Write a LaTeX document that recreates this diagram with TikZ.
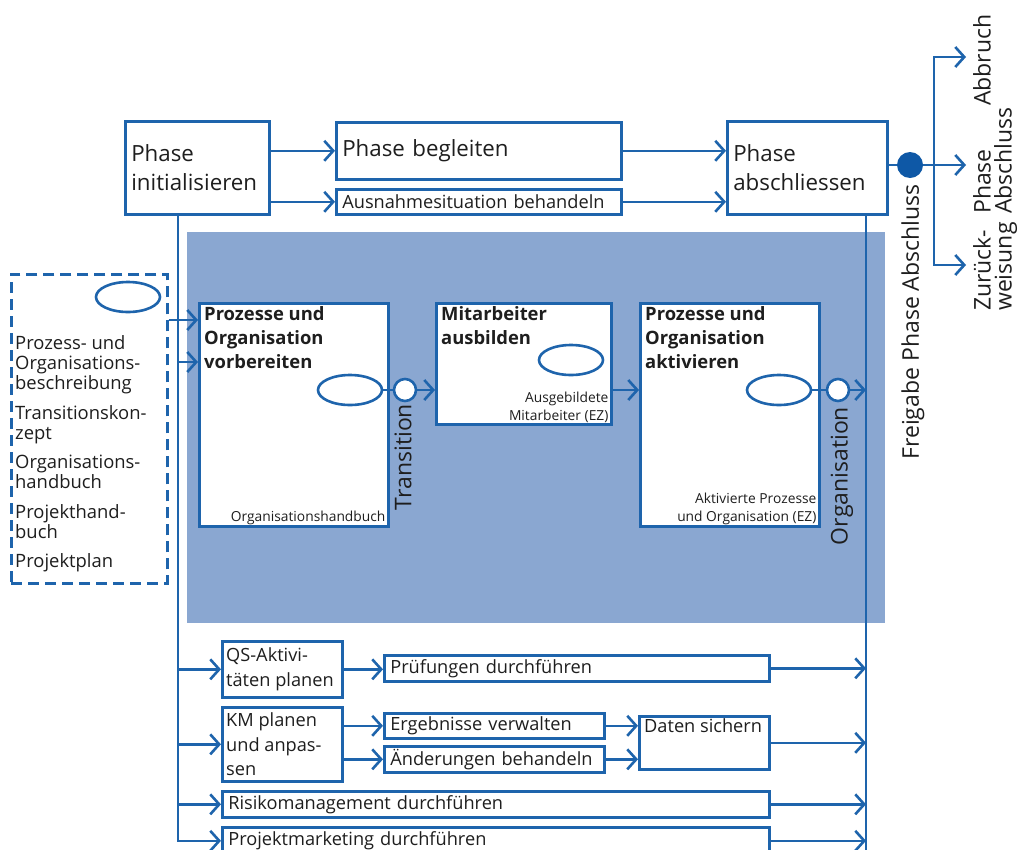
\documentclass[tikz,border=0pt]{standalone}
\usepackage{fontspec}
\setmainfont{Open Sans}
\usetikzlibrary{arrows.meta,shapes.geometric,calc}
\definecolor{lb}{RGB}{30,100,172}
\definecolor{bgb}{RGB}{138,167,209}
\definecolor{dotc}{RGB}{14,88,166}
\definecolor{txt}{RGB}{30,30,30}
\newcommand\fL{\fontsize{22.3}{29}\selectfont}
\newcommand\fM{\fontsize{18.2}{24.5}\selectfont}
\newcommand\fD{\fontsize{18.4}{20.3}\selectfont}
\newcommand\fB{\fontsize{18.4}{24}\selectfont\bfseries}
\newcommand\fS{\fontsize{13.8}{17.5}\selectfont}
\newcommand\fR{\fontsize{23}{21}\selectfont}
\newcommand\fV{\fontsize{23}{28}\selectfont}
\begin{document}
\begin{tikzpicture}[x=1pt,y=-1pt,
 box/.style={draw=lb, line width=2.6pt, fill=white, anchor=north west, inner xsep=6pt, inner ysep=1pt, align=left, text=txt},
 arr/.style={draw=lb, line width=2.6pt, -{Straight Barb[length=9pt,width=20pt,line width=2.6pt]}},
 ln/.style={draw=lb, line width=2.6pt},
 oval/.style={ellipse, draw=lb, line width=2.6pt, fill=white, minimum width=64pt, minimum height=30pt, inner sep=0},
 ring/.style={circle, draw=lb, line width=2.6pt, fill=white, minimum size=22pt, inner sep=0},
 rot/.style={rotate=90, text=txt, inner sep=0, align=left},
 ttl/.style={anchor=north west, inner xsep=6pt, inner ysep=4pt, align=left, font=\fB, text=txt},
 note/.style={anchor=south east, inner xsep=4pt, inner ysep=3pt, align=right, font=\fS, text=txt},
 wtxt/.style={anchor=west, inner xsep=5pt, inner ysep=0pt, align=left, font=\fM, text=txt},
]
\useasboundingbox (0,0) rectangle (1019,849);
\fill[white] (0,0) rectangle (1019,849);
% background panel
\fill[bgb] (187,232) rectangle (885,623);

% top row
\node[box, font=\fL, minimum width=144pt, minimum height=93pt, text width=132pt] (init) at (124,120) {Phase\\initialisieren};
\node[box, font=\fL, minimum width=285pt, minimum height=57pt, text width=273pt] (begl) at (335,121) {Phase begleiten};
\node[box, font=\fM, minimum width=285pt, minimum height=25pt, text width=273pt] (ausn) at (335,188) {Ausnahmesituation behandeln};
\node[box, font=\fL, minimum width=160pt, minimum height=93pt, text width=148pt] (absch) at (726,120) {Phase\\abschliessen};
\node[circle, fill=dotc, minimum size=26pt, inner sep=0] (dot) at (910,165) {};
\coordinate (br) at (934,165);
\coordinate (tAB) at (966,57);
\coordinate (tPA) at (966,165);
\coordinate (tZW) at (966,265);
\node[rot, font=\fR, anchor=north west] (lAB) at (973,106) {Abbruch};
\node[rot, font=\fR, anchor=north west] (lPA) at (973,214) {Phase\\Abschluss};
\node[rot, font=\fR, anchor=north west] (lZW) at (973,311) {Zurück-\\weisung};
\node[rot, font=\fV, anchor=center] (lFr) at (913,322) {Freigabe Phase Abschluss};

% dashed input box
\node[draw=lb, line width=2.6pt, dash pattern=on 11pt off 6pt, anchor=north west, minimum width=156pt, minimum height=309pt, inner sep=0] (dbox) at (10,273) {};
\node[oval] (dov) at (128,297) {};
\node[anchor=north west, inner sep=0, align=left, font=\fD, text=txt] (dtx) at (15,335) {Prozess- und\\Organisations-\\beschreibung\\[9pt]Transitionskon-\\zept\\[9pt]Organisations-\\handbuch\\[9pt]Projekthand-\\buch\\[9pt]Projektplan};

% panel boxes
\node[box, minimum width=189pt, minimum height=223pt,
  label={[ttl]north west:{Prozesse und\\Organisation\\vorbereiten}},
  label={[note]south east:{Organisationshandbuch}}] (vorb) at (198,302) {};
\node[box, minimum width=175pt, minimum height=121pt,
  label={[ttl]north west:{Mitarbeiter\\ausbilden}},
  label={[note]south east:{Ausgebildete\\Mitarbeiter (EZ)}}] (mit) at (435,302) {};
\node[box, minimum width=179pt, minimum height=223pt,
  label={[ttl]north west:{Prozesse und\\Organisation\\aktivieren}},
  label={[note]south east:{Aktivierte Prozesse\\und Organisation (EZ)}}] (akt) at (639,302) {};
\node[oval] (e1) at (350,390) {};
\node[oval] (e2) at (571,360) {};
\node[oval] (e3) at (779,390) {};
\node[ring] (c1) at (405,390) {};
\node[ring] (c2) at (838,390) {};
\node[rot, font=\fV, anchor=center] (lTr) at (403,457) {Transition};
\node[rot, font=\fV, anchor=center] (lOr) at (842,476) {Organisation};

% bottom boxes
\node[box, minimum width=120pt, minimum height=56pt,
  label={[wtxt]west:{QS-Aktivi-\\täten planen}}] (qs) at (221,640) {};
\node[box, font=\fM, minimum width=385pt, minimum height=26pt, text width=373pt] (pruef) at (383,654) {Prüfungen durchführen};
\node[box, minimum width=120pt, minimum height=74pt,
  label={[wtxt]west:{KM planen\\und anpas-\\sen}}] (km) at (221,706) {};
\node[box, font=\fM, minimum width=220pt, minimum height=25pt, text width=208pt] (erg) at (383,712) {Ergebnisse verwalten};
\node[box, font=\fM, minimum width=220pt, minimum height=26pt, text width=208pt] (aend) at (383,745) {Änderungen behandeln};
\node[box, minimum width=130pt, minimum height=53pt,
  label={[anchor=north west, inner xsep=6pt, inner ysep=3pt, font=\fM, text=txt]north west:{Daten sichern}}] (daten) at (638,715) {};
\node[box, font=\fM, minimum width=547pt, minimum height=26pt, text width=535pt] (risk) at (221,790) {Risikomanagement durchführen};
\node[box, font=\fM, minimum width=547pt, minimum height=27pt, text width=535pt] (pm) at (221,826) {Projektmarketing durchführen};

% spine coordinates
\coordinate (Lt) at (178,213);
\coordinate (Rt) at (866,213);
\coordinate (Rb) at (866,852);
\coordinate (in1) at ($(vorb.north west)+(0,18)$);
\coordinate (in2) at ($(vorb.north west)+(0,60)$);

% connectors top
\draw[arr] (init.east |- begl.west) -- (begl.west);
\draw[arr] (init.east |- ausn.west) -- (ausn.west);
\draw[arr] (begl.east) -- (absch.west |- begl.east);
\draw[arr] (ausn.east) -- (absch.west |- ausn.east);
\draw[ln] (absch.east |- dot) -- (dot);
\draw[arr] (dot) -- (tPA);
\draw[arr] (br) |- (tAB);
\draw[arr] (br) |- (tZW);

% left spine
\draw[arr] (Lt) |- (pm.west);
\draw[arr] (dbox.east |- in1) -- (in1);
\draw[arr] (Lt |- in2) -- (in2);
\draw[arr] (Lt |- qs.west) -- (qs.west);
\draw[arr] (Lt |- km.west) -- (km.west);
\draw[arr] (Lt |- risk.west) -- (risk.west);

% panel flow
\draw[ln] (e1.east) -- (c1.west);
\draw[arr] (c1.east) -- (mit.west |- c1);
\draw[arr] (mit.east |- c1) -- (akt.west |- c1);
\draw[ln] (e3.east) -- (c2.west);

% right spine
\draw[ln] (Rt) -- (Rb);
\draw[arr] (c2.east) -- (Rt |- c2);
\draw[arr] (pruef.east) -- (Rt |- pruef.east);
\draw[arr] (daten.east) -- (Rt |- daten.east);
\draw[arr] (risk.east) -- (Rt |- risk.east);
\draw[arr] (pm.east) -- (Rt |- pm.east);

% bottom flow
\draw[arr] (qs.east) -- (pruef.west |- qs.east);
\draw[arr] (km.east |- erg.west) -- (erg.west);
\draw[arr] (km.east |- aend.west) -- (aend.west);
\draw[arr] (erg.east) -- (daten.west |- erg.east);
\draw[arr] (aend.east) -- (daten.west |- aend.east);
\end{tikzpicture}
\end{document}
